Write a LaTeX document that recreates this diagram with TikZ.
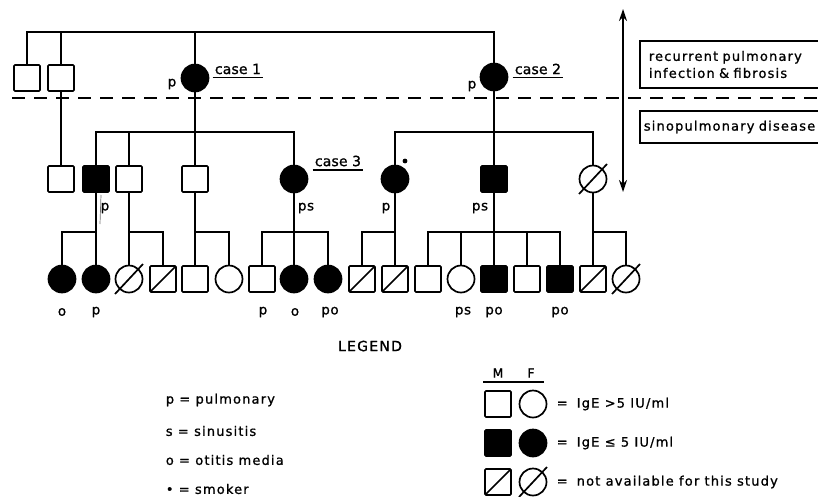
\documentclass[tikz,border=0pt]{standalone}
\usepackage{fontspec}
\setmainfont{DejaVu Sans}[LetterSpace=8, FakeBold=1]
\usetikzlibrary{arrows.meta}
\begin{document}
\begin{tikzpicture}[x=1pt,y=-1pt, line width=1.7pt,
  M/.style={draw, rectangle, rounded corners=1pt, minimum size=26pt, inner sep=0pt},
  F/.style={draw, circle, minimum size=27pt, inner sep=0pt},
  aff/.style={fill=black},
  na/.style={path picture={\draw[line width=1.7pt] (path picture bounding box.south west) -- (path picture bounding box.north east);}},
  lab/.style={font=\fontsize{13.5}{14}\selectfont\addfontfeatures{LetterSpace=4}, inner sep=0pt},
  case/.style={font=\fontsize{14}{15}\selectfont\addfontfeatures{LetterSpace=1}, inner sep=1.5pt},
  txt/.style={font=\fontsize{13}{14}\selectfont\addfontfeatures{LetterSpace=9}, inner sep=0pt, anchor=west},
]
\useasboundingbox (0,0) rectangle (818,496);

% generation 1
\node[M] (a1) at (27,78) {};
\node[M] (a2) at (61,78) {};
\node[F,aff] (c1) at (195,78) {};
\node[F,aff] (c2) at (494,77) {};
\coordinate (s0) at (0,32);
\draw (a1.north) |- (s0 -| c2) -- (c2.north);
\draw (a2.north) -- (a2 |- s0);
\draw (c1.north) -- (c1 |- s0);

% generation 2
\node[M] (b1) at (61,179) {};
\node[M,aff] (b2) at (96,179) {};
\node[M] (b3) at (129,179) {};
\node[M] (b4) at (195,179) {};
\node[F,aff] (c3) at (294,179) {};
\node[F,aff] (b6) at (395,179) {};
\node[M,aff] (b7) at (494,179) {};
\node[F] (b8) at (593,179) {};
\coordinate (s1) at (0,132);
\draw (a2) -- (b1);
\draw (b2.north) |- (s1 -| c3) -- (c3.north);
\draw (b3.north) -- (b3 |- s1);
\draw (c1) -- (b4);
\draw (b6.north) |- (s1 -| b8) -- (b8.north);
\draw (c2) -- (b7);

% generation 3
\node[F,aff] (k1) at (62,279) {};
\node[F,aff] (k2) at (96,279) {};
\node[F] (k3) at (129,279) {};
\node[M,na] (k4) at (163,279) {};
\node[M] (k5) at (195,279) {};
\node[F] (k6) at (229,279) {};
\node[M] (k7) at (262,279) {};
\node[F,aff] (k8) at (294,279) {};
\node[F,aff] (k9) at (328,279) {};
\node[M,na] (k10) at (362,279) {};
\node[M,na] (k11) at (395,279) {};
\node[M] (k12) at (428,279) {};
\node[F] (k13) at (461,279) {};
\node[M,aff] (k14) at (494,279) {};
\node[M] (k15) at (527,279) {};
\node[M,aff] (k16) at (560,279) {};
\node[M,na] (k17) at (593,279) {};
\node[F] (k18) at (626,279) {};
\coordinate (s2) at (0,232);
\draw (b2) -- (k2);  \draw (k1.north) |- (s2 -| b2);
\draw (b3) -- (k3);  \draw (k4.north) |- (s2 -| b3);
\draw (b4) -- (k5);  \draw (k6.north) |- (s2 -| b4);
\draw (c3) -- (k8);  \draw (k7.north) |- (s2 -| k9) -- (k9.north);
\draw (b6) -- (k11); \draw (k10.north) |- (s2 -| b6);
\draw (b7) -- (k14); \draw (k12.north) |- (s2 -| k16) -- (k16.north);
\draw (k13.north) -- (k13 |- s2); \draw (k15.north) -- (k15 |- s2);
\draw (b8) -- (k17); \draw (k18.north) |- (s2 -| b8);

% legend symbols
\node[font=\fontsize{12.5}{13}\selectfont, inner sep=0pt] (mm) at (498,373) {M};
\node[font=\fontsize{12.5}{13}\selectfont, inner sep=0pt] (ff) at (531,373) {F};
\coordinate (ul1) at (483,382); \coordinate (ul2) at (544,382);
\draw (ul1) -- (ul2);
\node[M] (lm1) at (498,404) {};
\node[F] (lf1) at (533,404) {};
\node[M,aff] (lm2) at (498,443) {};
\node[F,aff] (lf2) at (533,443) {};
\node[M,na] (lm3) at (498,482) {};
\node[F] (lf3) at (533,482) {};

% slashes of unavailable females
\foreach \n in {b8,k3,k18,lf3}
  \draw ([shift={(-14,15)}]\n.center) -- ([shift={(14,-15)}]\n.center);

% smoker mark
\node[circle, fill, inner sep=1.7pt] (smk) at (405,161) {};
% stray mark beside the affected son
\coordinate (tk1) at (101,195); \coordinate (tk2) at (100,224);
\draw[line width=0.7pt, black!55] (tk1) -- (tk2);

% labels near symbols
\node[lab] (l1) at (172,84) {p};
\node[lab] (l2) at (472,86) {p};
\node[case] (cs1) at (238,69) {case 1};
\draw ([yshift=-1pt]cs1.south west) -- ([yshift=-1pt]cs1.south east);
\node[case] (cs2) at (538,69) {case 2};
\draw ([yshift=-1pt]cs2.south west) -- ([yshift=-1pt]cs2.south east);
\node[case] (cs3) at (338,161) {case 3};
\draw ([yshift=-1pt]cs3.south west) -- ([yshift=-1pt]cs3.south east);
\node[lab] (l3) at (105,208) {p};
\node[lab] (l4) at (306,208) {ps};
\node[lab] (l5) at (386,208) {p};
\node[lab] (l6) at (480,208) {ps};
\node[lab] (m1) at (62,312) {o};
\node[lab] (m2) at (96,312) {p};
\node[lab] (m3) at (263,312) {p};
\node[lab] (m4) at (295,312) {o};
\node[lab] (m5) at (330,312) {po};
\node[lab] (m6) at (463,312) {ps};
\node[lab] (m7) at (494,312) {po};
\node[lab] (m8) at (560,312) {po};

% dashed divider and arrow
\coordinate (dl) at (12,98); \coordinate (dr) at (818,98);
\draw[dash pattern=on 13pt off 9pt] (dl) -- (dr);
\coordinate (ar1) at (623,9); \coordinate (ar2) at (623,192);
\draw[{Stealth[length=12pt,width=8pt]}-{Stealth[length=12pt,width=8pt]}] (ar1) -- (ar2);

% boxes on the right
\node[draw, anchor=west, minimum height=47pt, text width=200pt, align=left, inner xsep=9pt,
      font=\fontsize{13}{17}\selectfont\addfontfeatures{LetterSpace=9}] (bx1) at (639,64.5)
      {recurrent pulmonary\\infection \& fibrosis};
\node[draw, anchor=west, minimum height=32pt, text width=200pt, align=left, inner xsep=4pt,
      font=\fontsize{13}{14}\selectfont\addfontfeatures{LetterSpace=9}] (bx2) at (639,127)
      {sinopulmonary disease};

% legend text
\node[font=\fontsize{14}{15}\selectfont\addfontfeatures{LetterSpace=9}, inner sep=0pt] (lg) at (370,346) {LEGEND};
\node[txt] (t1) at (165,400) {p = pulmonary};
\node[txt] (t2) at (165,431) {s = sinusitis};
\node[txt] (t3) at (165,460) {o = otitis media};
\node[txt] (t4) at (165,489) {• = smoker};
\node[txt] (r1) at (556,404) {=\hspace{9pt}IgE >5 IU/ml};
\node[txt] (r2) at (556,443) {=\hspace{9pt}IgE ≤ 5 IU/ml};
\node[txt] (r3) at (556,482) {=\hspace{9pt}not available for this study};
\end{tikzpicture}
\end{document}
